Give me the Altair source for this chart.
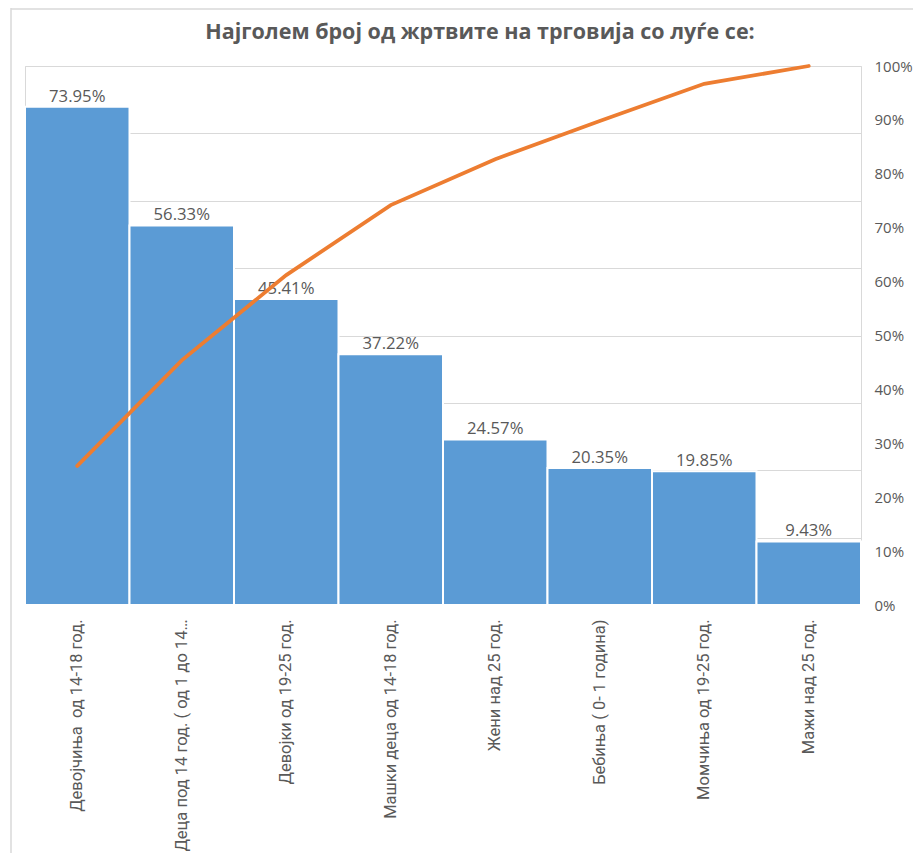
import altair as alt
import pandas as pd

categories = [
    "Девојчиња \u00a0од 14-18 год.",
    "Деца под 14 год. ( од 1 до 14…",
    "Девојки од 19-25 год.",
    "Машки деца од 14-18 год.",
    "Жени над 25 год.",
    "Бебиња ( 0- 1 година)",
    "Момчиња од 19-25 год.",
    "Мажи над 25 год.",
]
values = [73.95, 56.33, 45.41, 37.22, 24.57, 20.35, 19.85, 9.43]
cumulative = [0.258, 0.454, 0.612, 0.742, 0.827, 0.898, 0.967, 1.0]
left_ticks = [0, 10, 20, 30, 40, 50, 60, 70, 80]
right_ticks = [0, 0.1, 0.2, 0.3, 0.4, 0.5, 0.6, 0.7, 0.8, 0.9, 1.0]
title_text = "Најголем број од жртвите на трговија со луѓе се:"

df = pd.DataFrame({"cat": categories, "value": values, "cum": cumulative})

GRAY = "#595959"
NUMFONT = "Open Sans"
W, H = 836, 539

x_enc = alt.X(
    "cat:N",
    sort=categories,
    scale=alt.Scale(paddingInner=0, paddingOuter=0),
    axis=alt.Axis(
        title=None,
        labelAngle=-90,
        labelPadding=14,
        labelColor=GRAY,
        labelFont="Roboto",
        labelFontSize=16.5,
        labelLimit=400,
        ticks=False,
        domain=False,
    ),
)

base = alt.Chart(df)

bars = base.mark_bar(color="#5B9BD5", stroke="white", strokeWidth=2).encode(
    x=x_enc,
    y=alt.Y(
        "value:Q",
        scale=alt.Scale(domain=[0, 80], nice=False),
        axis=alt.Axis(
            title=None,
            labels=False,
            ticks=False,
            domain=False,
            grid=True,
            values=left_ticks,
            gridColor="#d9d9d9",
            gridWidth=1,
        ),
    ),
)

bar_labels = base.transform_calculate(
    lbl="format(datum.value, '.2f') + '%'"
).mark_text(
    color=GRAY, font=NUMFONT, fontSize=16.7, baseline="alphabetic", dy=-5
).encode(
    x=alt.X("cat:N", sort=categories),
    y=alt.Y("value:Q"),
    text="lbl:N",
)

left_layer = alt.layer(bars, bar_labels)

line = base.mark_line(color="#ED7D31", strokeWidth=3.8, strokeCap="round").encode(
    x=alt.X("cat:N", sort=categories),
    y=alt.Y(
        "cum:Q",
        scale=alt.Scale(domain=[0, 1], nice=False),
        axis=alt.Axis(
            title=None,
            orient="right",
            format=".0%",
            values=right_ticks,
            grid=False,
            ticks=False,
            domain=False,
            labelPadding=13,
            labelColor=GRAY,
            labelFont=NUMFONT,
            labelFontSize=15,
        ),
    ),
)

one = pd.DataFrame({"t": [title_text]})
title_mark = alt.Chart(one).mark_text(
    color=GRAY, font=NUMFONT, fontSize=21.5, fontWeight="bold",
    align="center", baseline="middle",
).encode(x=alt.value(455), y=alt.value(-33), text="t:N")

border_left = alt.Chart(one).mark_rule(color="#d9d9d9", strokeWidth=1.5).encode(
    x=alt.value(-14), y=alt.value(-58), y2=alt.value(800)
)
border_top = alt.Chart(one).mark_rule(color="#d9d9d9", strokeWidth=1.5).encode(
    x=alt.value(-14), x2=alt.value(900), y=alt.value(-57)
)

chart = (
    alt.layer(left_layer, line, border_left, border_top, title_mark)
    .resolve_scale(y="independent")
    .properties(
        width=W,
        height=H,
        padding={"left": 17, "top": 58, "right": 52, "bottom": 248},
        autosize=alt.AutoSizeParams(type="none"),
    )
    .configure_view(stroke="#d9d9d9")
)

chart.save("out.html", embed_options={"renderer": "svg", "actions": False})
